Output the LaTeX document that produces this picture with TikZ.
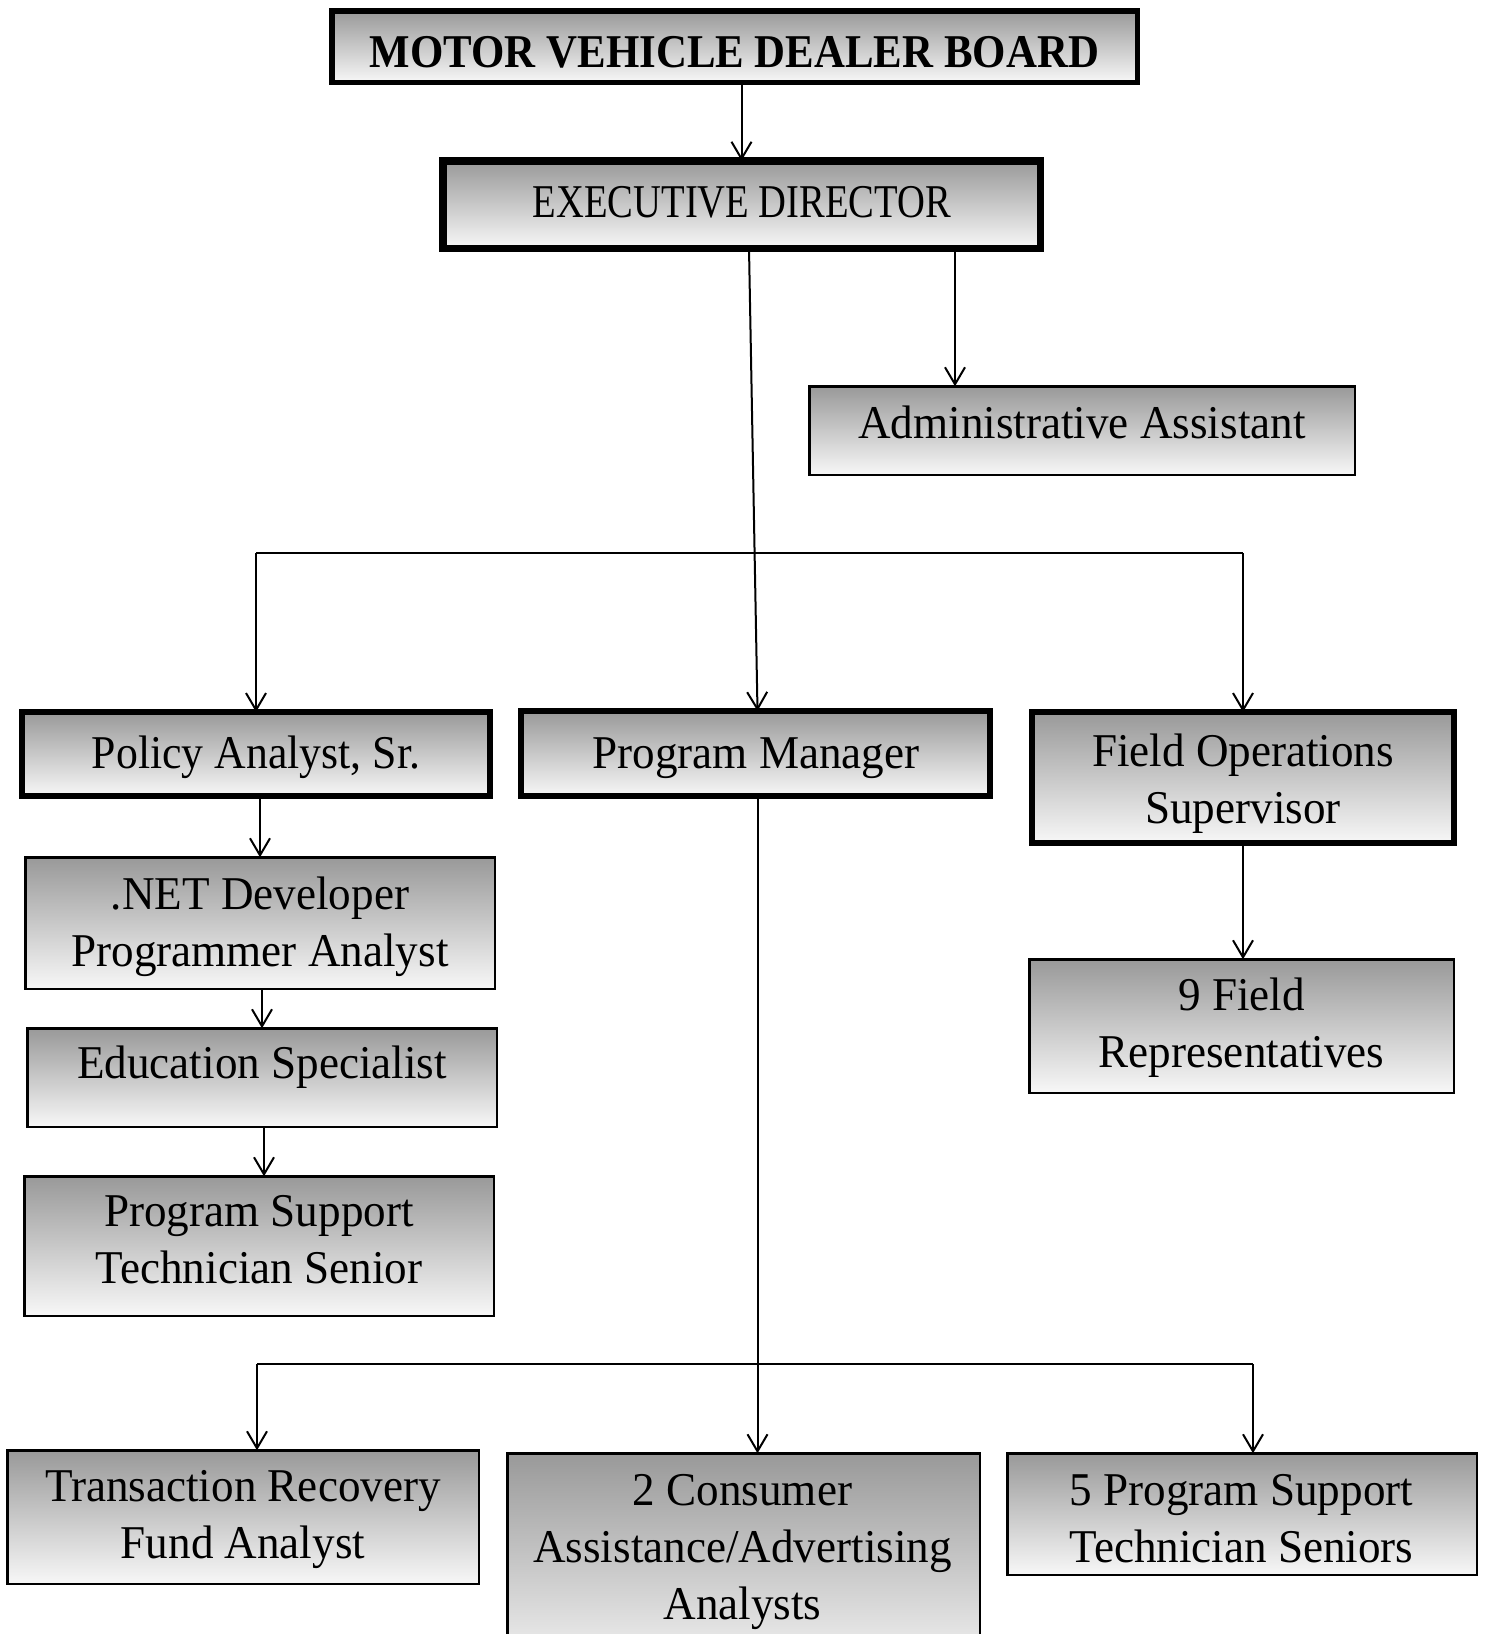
\documentclass[tikz,border=0pt]{standalone}
\usepackage{fontspec}
\usepackage{graphicx}
\setmainfont{Liberation Serif}[FakeStretch=0.96]
\usetikzlibrary{arrows.meta}
\definecolor{gtop}{gray}{0.6}
\definecolor{gbot}{gray}{0.97}
\tikzset{
  boxbase/.style={rectangle, draw=black, top color=gtop, bottom color=gbot, inner sep=0pt, outer sep=0pt},
  thickbox/.style={boxbase, line width=6pt},
  thinbox/.style={boxbase, line width=2.5pt},
  lbl/.style={anchor=base, inner sep=0pt, font=\fontsize{47}{57}\selectfont},
  conn/.style={line width=2pt},
  arr/.style={conn, -{Straight Barb[length=17pt,width=20pt]}},
}
\begin{document}
\begin{tikzpicture}[x=1pt,y=-1pt]
\useasboundingbox (0,0) rectangle (1485,1634);
% boxes
\node[thickbox, line width=5.5pt, minimum width=805.5pt, minimum height=71.5pt] (board) at (734.5,46.5) {};
\node[thickbox, line width=7.5pt, minimum width=597.5pt, minimum height=87.5pt] (exec) at (741.5,204.5) {};
\node[thinbox, minimum width=545.5pt, minimum height=88.5pt] (admin) at (1082,430.5) {};
\node[thickbox, minimum width=468pt, minimum height=84pt] (policy) at (256,754) {};
\node[thickbox, minimum width=469pt, minimum height=85pt] (pm) at (755.5,753.5) {};
\node[thickbox, minimum width=422pt, minimum height=131pt] (fo) at (1243,777.5) {};
\node[thinbox, minimum width=469.5pt, minimum height=131.5pt] (net) at (260,923) {};
\node[thinbox, minimum width=469.5pt, minimum height=98.5pt] (edu) at (262,1077.5) {};
\node[thinbox, minimum width=469.5pt, minimum height=139.5pt] (pst) at (259,1246) {};
\node[thinbox, minimum width=424.5pt, minimum height=133.5pt] (fr) at (1241.5,1026) {};
\node[thinbox, minimum width=471.5pt, minimum height=133.5pt] (trf) at (243,1517) {};
\node[thinbox, minimum width=472.5pt, minimum height=225.5pt] (cons) at (743.5,1566) {};
\node[thinbox, minimum width=469.5pt, minimum height=121.5pt] (ps5) at (1242,1514) {};
% texts
\node[lbl] (t-board) at (734.5,67) {\bfseries\scalebox{0.95}[1]{MOTOR VEHICLE DEALER BOARD}};
\node[lbl] (t-exec) at (742,217) {\scalebox{0.855}[1]{EXECUTIVE DIRECTOR}};
\node[lbl] (t-admin) at (1082,438) {Administrative Assistant};
\node[lbl] (t-policy) at (256,768) {\scalebox{0.97}[1]{Policy Analyst, Sr.}};
\node[lbl] (t-pm) at (756,768) {Program Manager};
\node[lbl] (t-fo) at (1243,766) {\begin{tabular}[t]{@{}c@{}}Field Operations\\Supervisor\end{tabular}};
\node[lbl] (t-net) at (260,909) {\begin{tabular}[t]{@{}c@{}}.NET Developer\\Programmer Analyst\end{tabular}};
\node[lbl] (t-edu) at (262,1078) {Education Specialist};
\node[lbl] (t-pst) at (259,1226) {\begin{tabular}[t]{@{}c@{}}Program Support\\Technician Senior\end{tabular}};
\node[lbl] (t-fr) at (1241.5,1010) {\begin{tabular}[t]{@{}c@{}}9 Field\\Representatives\end{tabular}};
\node[lbl] (t-trf) at (243,1501) {\begin{tabular}[t]{@{}c@{}}Transaction Recovery\\Fund Analyst\end{tabular}};
\node[lbl] (t-cons) at (742.5,1505) {\begin{tabular}[t]{@{}c@{}}2 Consumer\\Assistance/Advertising\\Analysts\end{tabular}};
\node[lbl] (t-ps5) at (1241.5,1505) {\begin{tabular}[t]{@{}c@{}}5 Program Support\\Technician Seniors\end{tabular}};
% helper coordinates
\coordinate (xa) at (955,0);
\coordinate (xp) at (757.5,0);
\coordinate (xe) at (264,0);
\coordinate (bar1) at (0,553);
\coordinate (b2l) at (257,1364);
\coordinate (b2r) at (1253,1364);
% connectors
\draw[arr] (board.south -| exec.north) -- (exec.north);
\draw[arr] (exec.south -| xa) -- (admin.north -| xa);
\draw[arr] ([xshift=7.5pt]exec.south) -- (pm.north -| xp);
\draw[conn] (policy.north |- bar1) -- (fo.north |- bar1);
\draw[arr] (policy.north |- bar1) -- (policy.north);
\draw[arr] (fo.north |- bar1) -- (fo.north);
\draw[arr] (net.north |- policy.south) -- (net.north);
\draw[arr] (edu.north |- net.south) -- (edu.north);
\draw[arr] (edu.south -| xe) -- (pst.north -| xe);
\draw[arr] (fo.south) -- (fo.south |- fr.north);
\draw[arr] (pm.south -| xp) -- (cons.north -| xp);
\draw[conn] (b2l) -- (b2r);
\draw[arr] (b2l) -- (b2l |- trf.north);
\draw[arr] (b2r) -- (b2r |- ps5.north);
\end{tikzpicture}
\end{document}
